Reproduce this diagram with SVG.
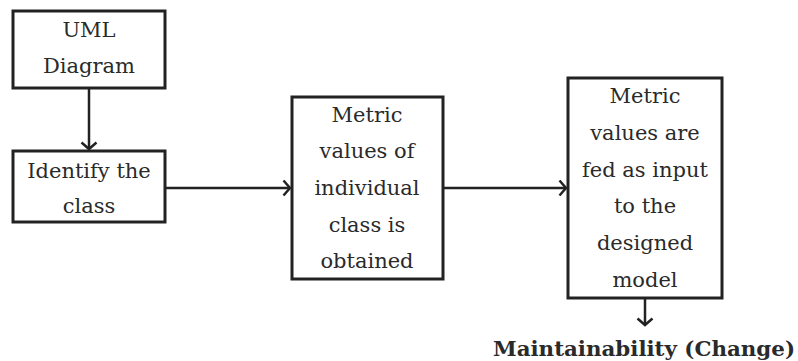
<svg xmlns="http://www.w3.org/2000/svg" width="798" height="361" viewBox="0 0 798 361">
<style>
.box{fill:#fff;stroke:#222;stroke-width:3}
.t{font-family:"DejaVu Serif",serif;font-size:21px;fill:#2a2a2a;text-anchor:middle}
.b{font-family:"DejaVu Serif",serif;font-size:20px;font-weight:bold;fill:#2a2a2a;text-anchor:middle}
.c{fill:none;stroke:#222;stroke-width:2.5}
</style>
<defs>
<marker id="ah" markerUnits="userSpaceOnUse" markerWidth="20" markerHeight="20" refX="0" refY="0" viewBox="-10 -10 20 20" orient="auto">
<path d="M-6.5,-7.5 L0,0 L-6.5,7.5" fill="none" stroke="#222" stroke-width="2.5"/>
</marker>
</defs>
<g id="connectors">
<line class="c" x1="89" y1="88" x2="89" y2="149" marker-end="url(#ah)"/>
<line class="c" x1="165" y1="188" x2="290" y2="188" marker-end="url(#ah)"/>
<line class="c" x1="443" y1="188" x2="566" y2="188" marker-end="url(#ah)"/>
<line class="c" x1="645" y1="298" x2="645" y2="325" marker-end="url(#ah)"/>
</g>
<g id="uml">
<rect class="box" x="13" y="11" width="152" height="77"/>
<text class="t" x="89" y="37">UML</text>
<text class="t" x="89" y="73">Diagram</text>
</g>
<g id="identify">
<rect class="box" x="13" y="151" width="152" height="71"/>
<text class="t" x="89" y="178">Identify the</text>
<text class="t" x="89" y="213">class</text>
</g>
<g id="metric">
<rect class="box" x="292" y="97" width="151" height="182"/>
<text class="t" x="367" y="122">Metric</text>
<text class="t" x="367" y="158">values of</text>
<text class="t" x="367" y="195">individual</text>
<text class="t" x="367" y="232">class is</text>
<text class="t" x="367" y="268">obtained</text>
</g>
<g id="model">
<rect class="box" x="568" y="78" width="154" height="220"/>
<text class="t" x="645" y="103">Metric</text>
<text class="t" x="645" y="140">values are</text>
<text class="t" x="645" y="177">fed as input</text>
<text class="t" x="645" y="213">to the</text>
<text class="t" x="645" y="250">designed</text>
<text class="t" x="645" y="287">model</text>
</g>
<g id="output">
<text class="b" x="644" y="356" textLength="302" lengthAdjust="spacingAndGlyphs">Maintainability (Change)</text>
</g>
</svg>
